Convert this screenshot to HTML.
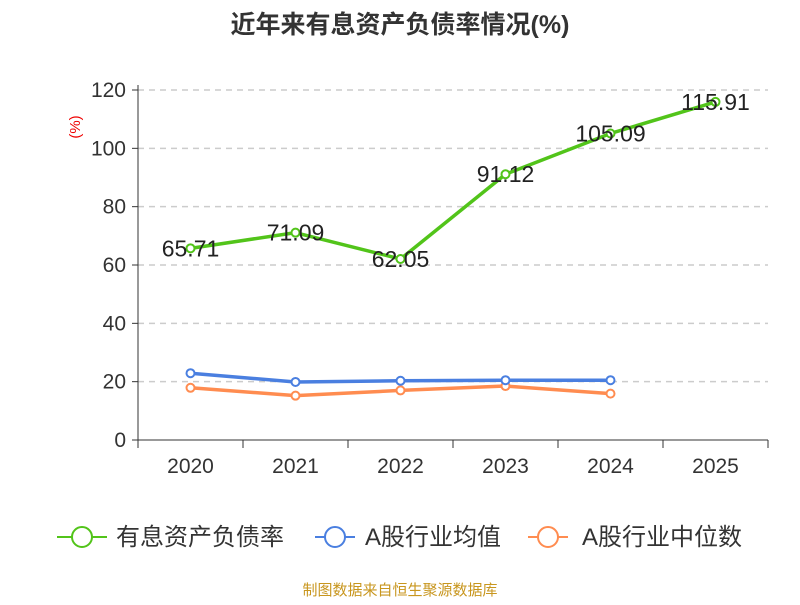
<!DOCTYPE html>
<html><head><meta charset="utf-8"><style>
body{margin:0;background:#fff;}
svg text{font-family:"Liberation Sans","Noto Sans CJK SC",sans-serif;}
</style></head><body>
<svg id="chart" width="800" height="600" xmlns="http://www.w3.org/2000/svg">
<text x="400" y="33" text-anchor="middle" font-size="25" font-weight="bold" fill="#333">近年来有息资产负债率情况(%)</text>
<text transform="translate(80,127) rotate(-90)" text-anchor="middle" font-size="15" fill="#e00">(%)</text>
<g id="grid"></g><g id="axes"></g><g id="series"></g>
<g>
<g><line x1="57" y1="537" x2="107" y2="537" stroke="#52c41a" stroke-width="2"/><circle cx="82" cy="537" r="10" fill="#fff" stroke="#52c41a" stroke-width="2"/><text x="116" y="545" font-size="24" fill="#333">有息资产负债率</text></g>
<g><line x1="315" y1="537" x2="355" y2="537" stroke="#4a7fe0" stroke-width="2"/><circle cx="335" cy="537" r="10" fill="#fff" stroke="#4a7fe0" stroke-width="2"/><text x="365" y="545" font-size="24" fill="#333">A股行业均值</text></g>
<g><line x1="528" y1="537" x2="568" y2="537" stroke="#ff8c50" stroke-width="2"/><circle cx="548" cy="537" r="10" fill="#fff" stroke="#ff8c50" stroke-width="2"/><text x="582" y="545" font-size="24" fill="#333">A股行业中位数</text></g>
</g>
<text x="400" y="595" text-anchor="middle" font-size="15" fill="#c8961e">制图数据来自恒生聚源数据库</text>
</svg>
<script>
const categories=["2020","2021","2022","2023","2024","2025"];
const companyValues=[65.71,71.09,62.05,91.12,105.09,115.91];
const avgValues=[22.9,19.9,20.3,20.5,20.5];
const medianValues=[17.9,15.2,17.0,18.5,15.9];
const yTicks=[0,20,40,60,80,100,120];
const NS="http://www.w3.org/2000/svg";
const x0=138,x1=768,yb=440,yt=90,ymax=120;
const band=(x1-x0)/categories.length;
const xs=i=>x0+band*(i+0.5);
const ys=v=>yb-(v/ymax)*(yb-yt);
function mk(tag,attrs,parent,txt){const e=document.createElementNS(NS,tag);for(const k in attrs)e.setAttribute(k,attrs[k]);if(txt!==undefined)e.textContent=txt;parent.appendChild(e);return e;}
const grid=document.getElementById('grid'),axes=document.getElementById('axes'),ser=document.getElementById('series');
yTicks.forEach(t=>{
 if(t>0){const l=mk('line',{x1:x0,x2:x1,y1:ys(t),y2:ys(t),stroke:'#ccc','stroke-dasharray':'6,5','stroke-width':1.5},grid);
 
 }
 const tk=mk('line',{x1:x0-6,x2:x0,y1:ys(t),y2:ys(t),stroke:'#333'},axes);
 
 
 const tx=mk('text',{x:x0-12,y:ys(t)+7,'text-anchor':'end','font-size':21,fill:'#333'},axes,t);
 
 
});
const ya=mk('line',{x1:x0,x2:x0,y1:yt-5,y2:yb,stroke:'#333'},axes);


const xa=mk('line',{x1:x0,x2:x1,y1:yb,y2:yb,stroke:'#333'},axes);


for(let i=0;i<=categories.length;i++){const t=mk('line',{x1:x0+band*i,x2:x0+band*i,y1:yb,y2:yb+8,stroke:'#333'},axes);
 
 }
categories.forEach((c,i)=>{const t=mk('text',{x:xs(i),y:yb+33,'text-anchor':'middle','font-size':21,fill:'#333'},axes,c);
 
 });
function series(vals,color,name,labels){
 const pts=vals.map((v,i)=>xs(i)+','+ys(v)).join(' ');
 const pl=mk('polyline',{points:pts,fill:'none',stroke:color,'stroke-width':3.5,'stroke-linejoin':'round'},ser);
 
 
 vals.forEach((v,i)=>{const c=mk('circle',{cx:xs(i),cy:ys(v),r:4,fill:'#fff',stroke:color,'stroke-width':2},ser);
  
  
  if(labels){const t=mk('text',{x:xs(i),y:ys(v)+8,'text-anchor':'middle','font-size':23,fill:'#222'},ser,v.toFixed(2));
   
   }
 });
}
series(medianValues,'#ff8c50','industry-median',false);
series(avgValues,'#4a7fe0','industry-avg',false);
series(companyValues,'#52c41a','company',true);
</script>
</body></html>
